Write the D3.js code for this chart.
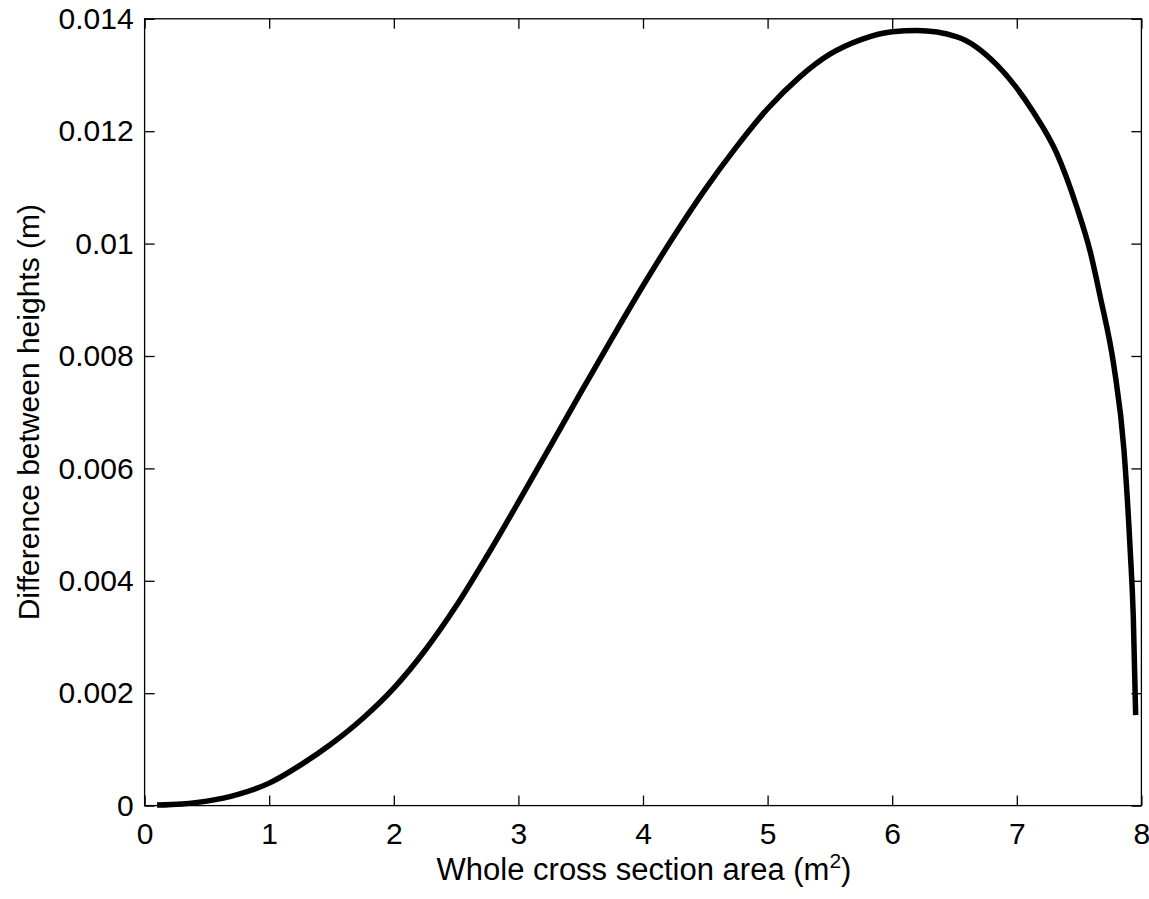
<!DOCTYPE html>
<html>
<head>
<meta charset="utf-8">
<script src="https://cdn.jsdelivr.net/npm/d3@7"></script>
<style>
  html, body { margin: 0; padding: 0; background: #fff; }
  svg { display: block; }
  text { font-family: "Liberation Sans", Arial, Helvetica, sans-serif; fill: #000; }
</style>
</head>
<body>
<svg id="chart" width="1149" height="899"></svg>
<script>
// Data
const areaValues = [0.1, 0.3, 0.5, 0.75, 1.0, 1.25, 1.5, 1.75, 2.0, 2.25, 2.5, 2.75, 3.0, 3.25, 3.5, 3.75, 4.0, 4.25, 4.5, 4.75, 5.0, 5.25, 5.5, 5.75, 6.0, 6.2, 6.52, 6.84, 7.13, 7.32, 7.48, 7.59, 7.67, 7.78, 7.86, 7.91, 7.935, 7.954];
const heightDiffValues = [0.00001, 0.00003, 0.00008, 0.0002, 0.0004, 0.00072, 0.0011, 0.00155, 0.00209, 0.00276, 0.00355, 0.00445, 0.0054, 0.00637, 0.00735, 0.00831, 0.00925, 0.01014, 0.01097, 0.01172, 0.0124, 0.01295, 0.01337, 0.01363, 0.01377, 0.01379, 0.01368, 0.01318, 0.01235, 0.01161, 0.01066, 0.00985, 0.00905, 0.00781, 0.00633, 0.00455, 0.00336, 0.00161];
const xTickValues = [0, 1, 2, 3, 4, 5, 6, 7, 8];
const yTickValues = [0, 0.002, 0.004, 0.006, 0.008, 0.01, 0.012, 0.014];
const yTickLabels = ["0", "0.002", "0.004", "0.006", "0.008", "0.01", "0.012", "0.014"];
const xLabel = "Whole cross section area (m";
const yLabel = "Difference between heights (m)";

const svg = d3.select("#chart");
const mLeft = 144.6, mRight = 1141.4, mTop = 18.8, mBottom = 805.6;

const x = d3.scaleLinear().domain([0, 8]).range([mLeft, mRight]);
const y = d3.scaleLinear().domain([0, 0.014]).range([mBottom, mTop]);

const tickLen = 10;
const tickFont = 30;
const labelFont = 31;

// Frame
svg.append("rect")
  .attr("x", mLeft).attr("y", mTop)
  .attr("width", mRight - mLeft).attr("height", mBottom - mTop)
  .attr("fill", "none").attr("stroke", "#000").attr("stroke-width", 1.3);

// Axes (inward ticks on all four sides)
const xAxisB = d3.axisBottom(x).tickValues(xTickValues).tickSizeInner(-tickLen).tickSizeOuter(0).tickPadding(17).tickFormat(d3.format("d"));
const xAxisT = d3.axisTop(x).tickValues(xTickValues).tickSizeInner(-tickLen).tickSizeOuter(0).tickFormat("");
const yAxisL = d3.axisLeft(y).tickValues(yTickValues).tickSizeInner(-tickLen).tickSizeOuter(0).tickPadding(11).tickFormat((d, i) => yTickLabels[i]);
const yAxisR = d3.axisRight(y).tickValues(yTickValues).tickSizeInner(-tickLen).tickSizeOuter(0).tickFormat("");

function styleAxis(g) {
  g.select(".domain").remove();
  g.selectAll(".tick line").attr("stroke", "#000").attr("stroke-width", 1.3);
  g.selectAll(".tick text").attr("font-size", tickFont).attr("font-family", "Liberation Sans, Arial, sans-serif").attr("fill", "#000");
}

svg.append("g").attr("transform", `translate(0,${mBottom})`).call(xAxisB).call(styleAxis);
svg.append("g").attr("transform", `translate(0,${mTop})`).call(xAxisT).call(styleAxis);
svg.append("g").attr("transform", `translate(${mLeft},0)`).call(yAxisL).call(styleAxis);
svg.append("g").attr("transform", `translate(${mRight},0)`).call(yAxisR).call(styleAxis);

// Curve
const pts = areaValues.map((a, i) => [a, heightDiffValues[i]]);
const line = d3.line().x(d => x(d[0])).y(d => y(d[1])).curve(d3.curveMonotoneX);
svg.append("path")
  .attr("d", line(pts))
  .attr("fill", "none").attr("stroke", "#000").attr("stroke-width", 5.5)
  .attr("stroke-linejoin", "round");

// Axis labels
const xl = svg.append("text")
  .attr("x", (mLeft + mRight) / 2 + 1).attr("y", 880)
  .attr("text-anchor", "middle").attr("font-size", labelFont);
xl.append("tspan").text(xLabel);
xl.append("tspan").attr("dy", -12).attr("font-size", 21).text("2");
xl.append("tspan").attr("dy", 12).text(")");

svg.append("text")
  .attr("transform", `translate(39,${(mTop + mBottom) / 2}) rotate(-90)`)
  .attr("text-anchor", "middle").attr("font-size", 30)
  .text(yLabel);
</script>
</body>
</html>
